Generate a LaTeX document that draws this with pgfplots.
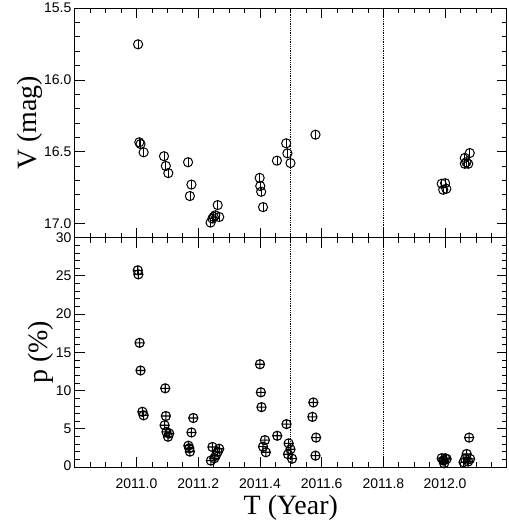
\documentclass[border=0pt]{standalone}
\usepackage{pgfplots}
\pgfplotsset{compat=1.18}
\usetikzlibrary{plotmarks}
\usepackage{fontspec}
\setmainfont{Liberation Serif}
\newfontfamily\tickfont{Liberation Sans}
\begin{document}
\begin{tikzpicture}
\pgfplotsset{
  common/.style={
    scale only axis, width=433pt, height=230pt,
    xmin=2010.8, xmax=2012.2,
    xtick={2011,2011.2,2011.4,2011.6,2011.8,2012},
    minor xtick={2010.85,2010.9,2010.95,2011.05,2011.1,2011.15,2011.25,2011.3,2011.35,2011.45,2011.5,2011.55,2011.65,2011.7,2011.75,2011.85,2011.9,2011.95,2012.05,2012.1,2012.15},
    tick align=inside, xtick pos=both, ytick pos=both,
    major tick length=10pt, minor tick length=5pt,
    every tick/.style={black, line width=0.8pt},
    axis line style={line width=1pt},
    ticklabel style={font=\tickfont\fontsize{14}{15}\selectfont},
    /pgf/number format/assume math mode=true,
    label style={font=\fontsize{28}{30}\selectfont},
    ylabel style={yshift=-5pt},
    clip=false,
  },
  vmark/.style={only marks, mark=o, mark size=4.6pt, mark options={line width=1pt, black}},
  vbar/.style={only marks, mark=|, mark size=4.6pt, mark options={line width=0.8pt, black}},
  pmark/.style={only marks, mark=oplus, mark size=4.6pt, mark options={line width=1.1pt, black}},
}
\begin{axis}[common, name=top,
  y dir=reverse, ymin=15.5, ymax=17.1,
  ytick={16,16.5,17},
  extra y ticks={15.5},
  extra y tick labels={\raisebox{-5pt}{15.5}},
  minor ytick={15.6,15.7,15.8,15.9,16.1,16.2,16.3,16.4,16.6,16.7,16.8,16.9,17.1},
  yticklabel style={/pgf/number format/fixed, /pgf/number format/fixed zerofill, /pgf/number format/precision=1},
  xticklabels={},
  ylabel={V (mag)},
]
\addplot[black, densely dotted, line width=0.8pt, forget plot] coordinates {(2011.5,15.5) (2011.5,17.1)};
\addplot[black, densely dotted, line width=0.8pt, forget plot] coordinates {(2011.8,15.5) (2011.8,17.1)};
\pgfplotstableread{
T V
2011.005 15.752
2011.009 16.435
2011.013 16.447
2011.023 16.505
2011.089 16.532
2011.095 16.600
2011.103 16.650
2011.167 16.574
2011.178 16.730
2011.173 16.810
2011.240 16.995
2011.246 16.967
2011.255 16.944
2011.250 16.955
2011.263 16.873
2011.268 16.956
2011.399 16.683
2011.401 16.740
2011.404 16.780
2011.410 16.887
2011.455 16.563
2011.485 16.442
2011.489 16.512
2011.499 16.580
2011.580 16.382
2011.989 16.724
2012.000 16.720
2011.994 16.766
2012.004 16.759
2012.080 16.510
2012.064 16.544
2012.069 16.574
2012.064 16.585
2012.075 16.585
}\vdata
\addplot[vmark] table[x=T, y=V] {\vdata};
\addplot[vbar] table[x=T, y=V] {\vdata};
\end{axis}
\begin{axis}[common, name=bot, at={(top.south west)}, anchor=north west,
  ymin=0, ymax=30,
  ytick={5,10,15,20,25},
  extra y ticks={0,30},
  extra y tick labels={\raisebox{3pt}{0},\raisebox{-5pt}{30}},
  minor ytick={1,2,3,4,6,7,8,9,11,12,13,14,16,17,18,19,21,22,23,24,26,27,28,29},
  xticklabel style={yshift=-8pt, /pgf/number format/fixed, /pgf/number format/fixed zerofill, /pgf/number format/precision=1, /pgf/number format/1000 sep={}},
  xlabel={T (Year)}, ylabel={p (\%)},
]
\addplot[black, densely dotted, line width=0.8pt, forget plot] coordinates {(2011.5,0) (2011.5,30)};
\addplot[black, densely dotted, line width=0.8pt, forget plot] coordinates {(2011.8,0) (2011.8,30)};
\addplot[pmark] coordinates {
(2011.004,25.73) (2011.006,25.2) (2011.010,16.25) (2011.013,12.63)
(2011.019,7.24) (2011.023,6.77)
(2011.093,10.3) (2011.095,6.68) (2011.091,5.47) (2011.097,4.6) (2011.102,3.97) (2011.106,4.4)
(2011.168,2.8) (2011.171,2.46) (2011.173,2.03) (2011.178,4.53) (2011.184,6.42)
(2011.241,0.85) (2011.246,2.63) (2011.252,1.15) (2011.257,1.5) (2011.263,2.0) (2011.268,2.4)
(2011.400,13.45) (2011.403,9.78) (2011.405,7.84) (2011.410,2.67) (2011.416,3.53) (2011.419,1.94)
(2011.456,4.1) (2011.486,5.62) (2011.493,3.1) (2011.499,2.33) (2011.491,1.68) (2011.504,1.1)
(2011.573,8.45) (2011.570,6.57) (2011.582,3.86) (2011.580,1.5)
(2011.989,1.16) (2012.000,1.16) (2011.997,0.5) (2012.005,1.07) (2011.994,0.86)
(2012.065,1.07) (2012.070,1.72) (2012.075,0.73) (2012.081,1.07) (2012.060,0.64) (2012.078,3.86)
};
\end{axis}
\path (top.north west) ++(-75pt,7pt) coordinate (tl);
\path[draw=none] (tl) rectangle ++(510pt,-524pt);
\end{tikzpicture}
\end{document}
